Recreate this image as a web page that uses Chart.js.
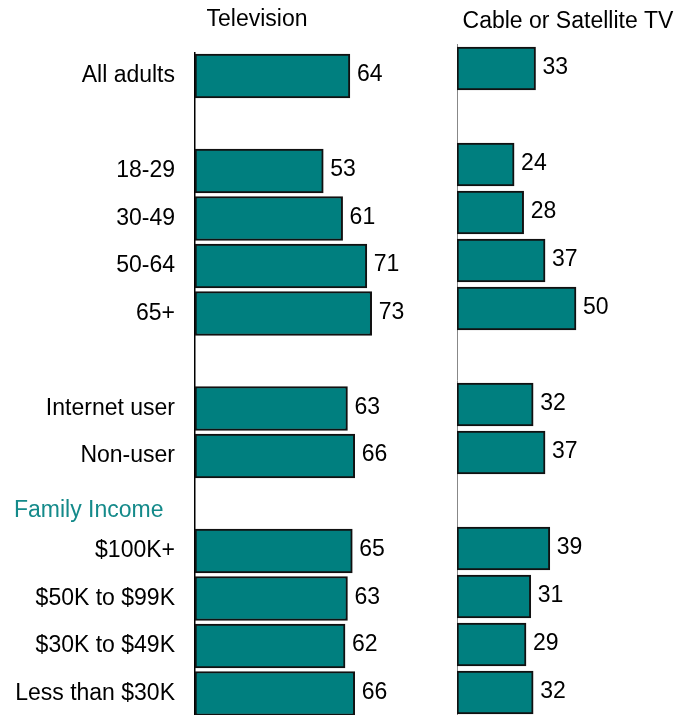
<!DOCTYPE html>
<html>
<head>
<meta charset="utf-8">
<title>Television and cable news</title>
<script src="https://cdn.jsdelivr.net/npm/chart.js@4.4.0/dist/chart.umd.min.js"></script>
<style>
  html, body { margin: 0; padding: 0; background: #fff; overflow: hidden; }
  #wrap { position: relative; width: 683px; height: 715px; overflow: hidden; }
  #tv { position: absolute; left: 0; top: 0; }
  #cable { position: absolute; left: 440px; top: 0; }
</style>
</head>
<body>
<div id="wrap">
  <canvas id="tv" width="450" height="720"></canvas>
  <canvas id="cable" width="260" height="720"></canvas>
</div>
<script>
// rows top to bottom; blank rows are spacers between groups
const groups = ['All adults', '', '18-29', '30-49', '50-64', '65+', '', 'Internet user', 'Non-user', 'Family Income', '$100K+', '$50K to $99K', '$30K to $49K', 'Less than $30K'];
const televisionPct = [64, null, 53, 61, 71, 73, null, 63, 66, null, 65, 63, 62, 66];
const cablePct = [33, null, 24, 28, 37, 50, null, 32, 37, null, 39, 31, 29, 32];
const headerRow = 9; // "Family Income" sub heading

const TEAL = '#007f7f';
const FONT_FAMILY = '"Liberation Sans", Arial, sans-serif';
const FONT_SIZE = 23;

// number at the end of each bar
const valueLabels = {
  id: 'valueLabels',
  afterDatasetsDraw(chart) {
    const ctx = chart.ctx;
    ctx.save();
    ctx.font = FONT_SIZE + 'px ' + FONT_FAMILY;
    ctx.fillStyle = '#000';
    ctx.textAlign = 'left';
    ctx.textBaseline = 'middle';
    const vals = chart.data.datasets[0].data;
    chart.getDatasetMeta(0).data.forEach((bar, i) => {
      if (vals[i] == null) return;
      ctx.fillText(String(vals[i]), bar.x + 7, bar.y - 1);
    });
    ctx.restore();
  }
};

// column heading above each panel
const panelTitle = {
  id: 'panelTitle',
  afterDraw(chart, args, opts) {
    const ctx = chart.ctx;
    ctx.save();
    ctx.font = FONT_SIZE + 'px ' + FONT_FAMILY;
    ctx.fillStyle = '#000';
    ctx.textAlign = 'center';
    ctx.textBaseline = 'middle';
    ctx.fillText(opts.text, opts.x, opts.y);
    ctx.restore();
  }
};

// teal sub heading sitting in its own row, left aligned
const groupHeading = {
  id: 'groupHeading',
  afterDraw(chart) {
    const y = chart.scales.y.getPixelForValue(headerRow);
    const ctx = chart.ctx;
    ctx.save();
    ctx.font = FONT_SIZE + 'px ' + FONT_FAMILY;
    ctx.fillStyle = '#148a8a';
    ctx.textAlign = 'left';
    ctx.textBaseline = 'middle';
    ctx.fillText(groups[headerRow], 14, y + 7);
    ctx.restore();
  }
};

function barData(values, thickness) {
  return {
    labels: groups,
    datasets: [{
      data: values,
      backgroundColor: TEAL,
      borderColor: '#111',
      borderWidth: 2,
      borderSkipped: false,
      barThickness: thickness
    }]
  };
}

new Chart(document.getElementById('tv'), {
  type: 'bar',
  data: barData(televisionPct, 44),
  plugins: [valueLabels, panelTitle, groupHeading],
  options: {
    indexAxis: 'y',
    responsive: false,
    animation: false,
    layout: { padding: { top: 52.25, bottom: 2.75, left: 0, right: 13 } },
    plugins: {
      legend: { display: false },
      tooltip: { enabled: false },
      panelTitle: { text: 'Television', x: 257, y: 20 }
    },
    scales: {
      x: { display: false, min: 0, max: 100 },
      y: {
        grid: { display: false, drawTicks: false },
        border: { display: true, color: '#000', width: 1.5 },
        ticks: {
          padding: 20,
          color: '#000',
          autoSkip: false,
          font: { family: FONT_FAMILY, size: FONT_SIZE },
          callback: (v, i) => (i === headerRow ? '' : groups[i])
        },
        afterFit(scale) {
          scale.width = 195;
          // labels sit inside the rows, no extra room needed above/below
          scale.paddingTop = 0;
          scale.paddingBottom = 0;
        }
      }
    }
  }
});

new Chart(document.getElementById('cable'), {
  type: 'bar',
  data: barData(cablePct, 43),
  plugins: [valueLabels, panelTitle],
  options: {
    indexAxis: 'y',
    responsive: false,
    animation: false,
    layout: { padding: { top: 44.5, bottom: 3.5, left: 17, right: 5 } },
    plugins: {
      legend: { display: false },
      tooltip: { enabled: false },
      panelTitle: { text: 'Cable or Satellite TV', x: 128, y: 22 }
    },
    scales: {
      x: { display: false, min: 0, max: 100 },
      y: {
        grid: { display: false, drawTicks: false },
        border: { display: true, color: '#888', width: 1 },
        ticks: { display: false },
        afterFit(scale) { scale.width = 0; }
      }
    }
  }
});
</script>
</body>
</html>
